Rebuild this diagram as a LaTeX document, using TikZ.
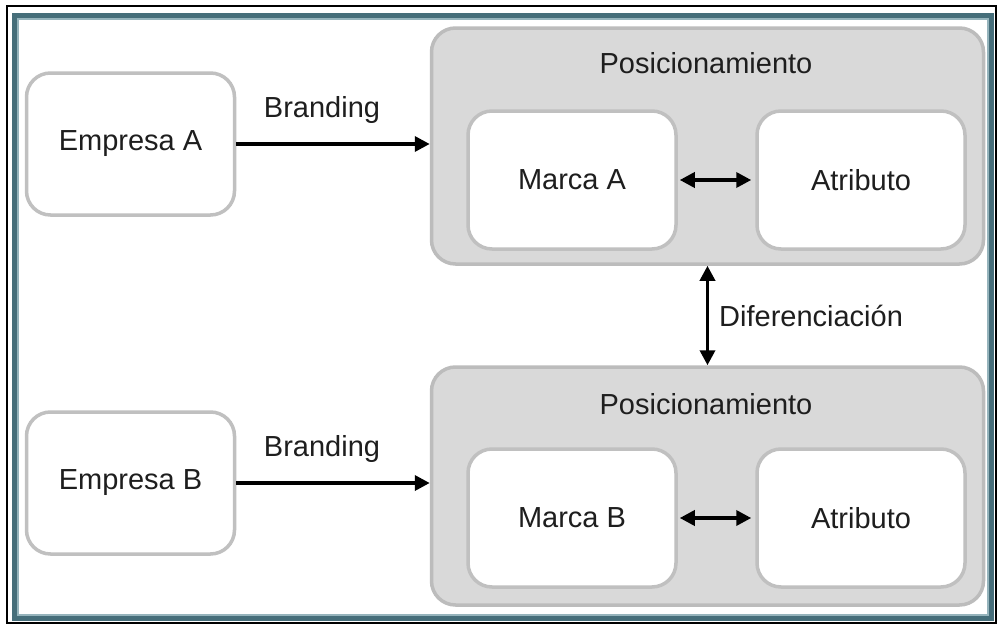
\documentclass[tikz,border=0pt]{standalone}
\usepackage{fontspec}
\setmainfont{Liberation Sans}
\usetikzlibrary{arrows.meta}
\definecolor{txt}{RGB}{30,30,30}
\definecolor{cfill}{RGB}{217,217,217}
\definecolor{cline}{RGB}{188,188,188}
\definecolor{bline}{RGB}{192,192,192}
\definecolor{teal1}{RGB}{70,110,122}
\definecolor{teal2}{RGB}{150,180,188}
\tikzset{
  every node/.style={font=\fontsize{29}{34}\selectfont, text=txt},
  whitebox/.style={draw=bline, line width=3.5pt, fill=white, rounded corners=24pt, minimum width=208pt, minimum height=138pt, inner sep=0pt},
  container/.style={draw=cline, line width=3.5pt, fill=cfill, rounded corners=24pt, minimum width=552pt, inner sep=0pt},
  tip/.style={Triangle[length=15pt,width=15pt]},
  arr/.style={-{Triangle[length=15pt,width=15pt]}, line width=3.5pt, black},
  darr/.style={{Triangle[length=15pt,width=15pt]}-{Triangle[length=15pt,width=15pt]}, line width=3.5pt, black},
  lbl/.style={inner sep=0pt}
}
\begin{document}
\begin{tikzpicture}[x=1pt,y=-1pt]
\useasboundingbox (0,0) rectangle (997,624);
\fill[white] (0,0) rectangle (997,624);
% frame
\draw[black, line width=1.5pt] (7,6) rectangle (996,623);
\draw[teal1, line width=5pt] (14.5,15.5) rectangle (991.5,618.5);
\draw[teal2, line width=1.5pt] (18,19) rectangle (988,615);
% containers
\node[container, minimum height=236pt] (pa) at (707.5,146) {};
\node[container, minimum height=238pt] (pb) at (707.5,486) {};
% boxes
\node[whitebox, minimum height=142pt] (ea) at (130.5,144) {Empresa A};
\node[whitebox, minimum height=142pt] (eb) at (130.5,483) {Empresa B};
\node[whitebox] (ma) at (572,180) {Marca A};
\node[whitebox] (aa) at (861,180) {Atributo};
\node[whitebox] (mb) at (572,518) {Marca B};
\node[whitebox] (ab) at (861,518) {Atributo};
% labels
\node[lbl] (pta) at (706,63) {Posicionamiento};
\node[lbl] (ptb) at (706,404) {Posicionamiento};
\node[lbl] (ba) at (322,110) {Branding};
\node[lbl] (bb) at (322,449) {Branding};
% arrows
\draw[arr] (ea.east) -- (ea.east -| pa.west);
\draw[arr] (eb.east) -- (eb.east -| pb.west);
\draw[darr] ([xshift=2pt]ma.east) -- ([xshift=-4pt]aa.west);
\draw[darr] ([xshift=2pt]mb.east) -- ([xshift=-4pt]ab.west);
\draw[darr] (pa.south) -- (pb.north);
\node[lbl, anchor=west] (dif) at (719,316) {Diferenciación};
\end{tikzpicture}
\end{document}
